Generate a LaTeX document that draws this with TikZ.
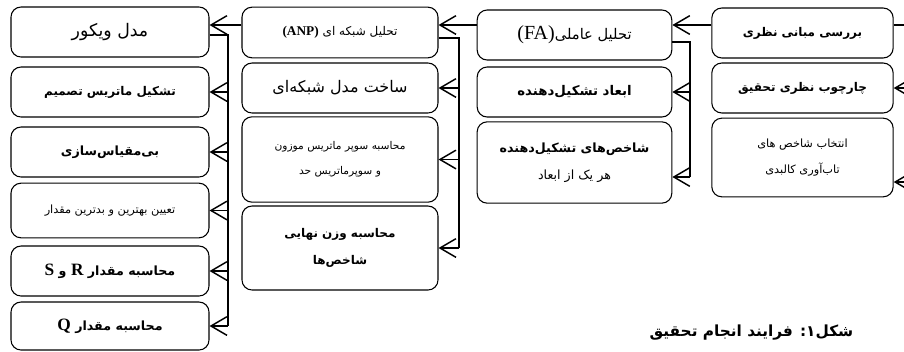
\documentclass[tikz,border=0pt]{standalone}
\usepackage{fontspec}
\setmainfont{Liberation Serif}
\newfontfamily\persianfont[Script=Arabic]{DejaVu Sans}
\usetikzlibrary{arrows.meta}
\TeXXeTstate=1
\newcommand{\rtl}[1]{{\persianfont\beginR #1\endR}}
\newcommand{\lat}[1]{\beginL{\rmfamily #1}\endL}
\tikzset{
  stage/.style={draw, rounded corners=7.5pt, line width=0.8pt, inner sep=0pt, align=center, minimum height=37.5pt},
  stageA/.style={stage, minimum width=148.5pt},
  stageB/.style={stage, minimum width=147pt},
  stageC/.style={stage, minimum width=146pt},
  stageD/.style={stage, minimum width=136pt},
  wire/.style={line width=1.1pt},
  arr/.style={wire, -{Straight Barb[length=12pt,width=14pt,line width=1.1pt]}}
}
\begin{document}
\begin{tikzpicture}[x=0.75pt,y=-0.75pt]
\useasboundingbox (0,0) rectangle (904,351);
\node[stageA, font=\fontsize{13}{15}\selectfont] (a1) at (110,32) {\rtl{مدل ویکور}};
\node[stageA, font=\fontsize{9}{11}\selectfont\bfseries] (a2) at (110,92) {\rtl{تشکیل ماتریس تصمیم}};
\node[stageA, font=\fontsize{9.5}{11}\selectfont\bfseries] (a3) at (110,152) {\rtl{بی‌مقیاس‌سازی}};
\node[stageA, minimum height=41pt, font=\fontsize{8.5}{10}\selectfont] (a4) at (110,210.5) {\rtl{تعیین بهترین و بدترین مقدار}};
\node[stageA, font=\fontsize{9.5}{12}\selectfont\bfseries] (a5) at (110,271) {\rtl{محاسبه مقدار {\fontsize{13}{14}\selectfont\lat{R}} و {\fontsize{13}{14}\selectfont\lat{S}}}};
\node[stageA, minimum height=36pt, font=\fontsize{9.5}{12}\selectfont\bfseries] (a6) at (110,326) {\rtl{محاسبه مقدار {\fontsize{13}{14}\selectfont\lat{Q}}}};
\node[stageB, minimum height=38pt, font=\fontsize{9}{11}\selectfont] (b1) at (340,32.5) {\rtl{تحلیل شبکه ای {\fontsize{10}{11}\selectfont\bfseries\lat{(ANP)}}}};
\node[stageB, font=\fontsize{12}{14}\selectfont] (b2) at (340,88) {\rtl{ساخت مدل شبکه‌ای}};
\node[stageB, minimum height=64pt, font=\fontsize{8}{10}\selectfont] (b3) at (340,159.5) {\rtl{محاسبه سوپر ماتریس موزون}\\[9pt]\rtl{و سوپرماتریس حد}};
\node[stageB, minimum height=63pt, font=\fontsize{9}{11}\selectfont\bfseries] (b4) at (340,248) {\rtl{محاسبه وزن نهایی}\\[9pt]\rtl{شاخص‌ها}};
\node[stageC, font=\fontsize{11}{13}\selectfont] (c1) at (574.5,35) {\rtl{تحلیل عاملی{\fontsize{15}{16}\selectfont\lat{(FA)}}}};
\node[stageC, font=\fontsize{10}{12}\selectfont\bfseries] (c2) at (574.5,92) {\rtl{ابعاد تشکیل‌دهنده}};
\node[stageC, minimum height=61pt, font=\fontsize{9.5}{11}\selectfont] (c3) at (574.5,162.5) {\rtl{\bfseries شاخص‌های تشکیل‌دهنده}\\[9pt]\rtl{هر یک از ابعاد}};
\node[stageD, minimum height=37.5pt, font=\fontsize{9}{11}\selectfont\bfseries] (d1) at (802.5,33) {\rtl{بررسی مبانی نظری}};
\node[stageD, font=\fontsize{9}{11}\selectfont\bfseries] (d2) at (802.5,88) {\rtl{چارچوب نظری تحقیق}};
\node[stageD, minimum height=59pt, font=\fontsize{8.5}{10}\selectfont] (d3) at (802.5,157.5) {\rtl{انتخاب شاخص های}\\[9pt]\rtl{تاب‌آوری کالبدی}};
\node[anchor=east, font=\fontsize{11.5}{13}\selectfont\bfseries] (cap) at (858,333) {\rtl{شکل۱: فرایند انجام تحقیق}};
\coordinate (ta) at (228,35);
\coordinate (tb) at (459,38);
\coordinate (tc) at (690,42);
\coordinate (r1) at (912,25);
\coordinate (r2) at (912,88);
\coordinate (r3) at (912,182);
\draw[arr] (b1.west |- 0,25) -- (a1.east |- 0,25);
\draw[arr] (c1.west |- 0,25) -- (b1.east |- 0,25);
\draw[arr] (d1.west |- 0,25) -- (c1.east |- 0,25);
\draw[wire] (d1.east |- r1) -- (r1);
\draw[wire] (a1.east |- ta) -- (ta) -- (ta |- a6.east);
\foreach \n in {a2,a3,a4,a5,a6}
  \draw[arr] (ta |- \n.east) -- (\n.east);
\draw[wire] (b1.east |- tb) -- (tb) -- (tb |- b4.east);
\foreach \n in {b2,b3,b4}
  \draw[arr] (tb |- \n.east) -- (\n.east);
\draw[wire] (c1.east |- tc) -- (tc) -- (690,177);
\draw[arr] (tc |- c2.east) -- (c2.east);
\draw[arr] (690,177) -- (c3.east |- 0,177);
\draw[arr] (r2) -- (d2.east |- r2);
\draw[arr] (r3) -- (d3.east |- r3);
\end{tikzpicture}
\end{document}
